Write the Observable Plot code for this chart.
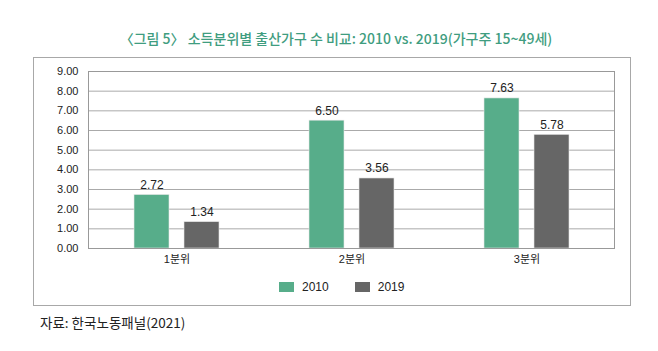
<!DOCTYPE html>
<html>
<head>
<meta charset="utf-8">
<script src="https://cdn.jsdelivr.net/npm/d3@7"></script>
<script src="https://cdn.jsdelivr.net/npm/@observablehq/plot@0.6"></script>
<style>
  html, body { margin: 0; padding: 0; background: #fff; }
  body { width: 658px; height: 351px; position: relative; overflow: hidden;
         font-family: "Liberation Sans", "Noto Sans CJK KR", sans-serif; }
  #title { position: absolute; left: 0; width: 672px; top: 28px; text-align: center;
           font-family: "Noto Sans CJK KR", sans-serif; font-size: 14px; font-weight: 500;
           color: #3f9d80; white-space: nowrap; }
  #box { position: absolute; left: 33px; top: 57px; width: 596px; height: 247px;
         border: 1px solid #a8a8a8; box-sizing: content-box; }
  #chart { position: absolute; left: 0; top: 0; }
  #legend { position: absolute; left: 245px; top: 222px; }
  #legend [class*="-swatches"] { font-size: 12px !important; color: #222 !important;
        font-family: "Liberation Sans", sans-serif !important; min-height: 0 !important; margin: 0 !important; }
  #legend [class*="-swatch"] { margin-right: 26px !important; }
  #legend [class*="-swatch"] > svg { margin-right: 8px !important; }
  #caption { position: absolute; left: 40px; top: 312px; font-size: 13.5px; color: #222;
             font-family: "Noto Sans CJK KR", sans-serif; }
</style>
</head>
<body>
<div id="title">〈그림 5〉 소득분위별 출산가구 수 비교: 2010 vs. 2019(가구주 15~49세)</div>
<div id="box"><div id="chart"></div><div id="legend"></div></div>
<div id="caption">자료: 한국노동패널(2021)</div>
<script>
const categories = ["1분위", "2분위", "3분위"];
const years = ["2010", "2019"];
const values2010 = [2.72, 6.50, 7.63];
const values2019 = [1.34, 3.56, 5.78];
const yTicks = [0, 1, 2, 3, 4, 5, 6, 7, 8, 9];
const colors = ["#57ad8a", "#666666"];

const rows2010 = categories.map((c, i) => ({cat: c, year: years[0], value: values2010[i]}));
const rows2019 = categories.map((c, i) => ({cat: c, year: years[1], value: values2019[i]}));
const fmt = d3.format(".2f");

const plot = Plot.plot({
  width: 596,
  height: 215,
  marginLeft: 54,
  marginRight: 16,
  marginTop: 13,
  marginBottom: 25,
  style: {fontSize: "11px", fontFamily: "\"Liberation Sans\", \"Noto Sans CJK KR\", sans-serif", color: "#222", background: "transparent"},
  x: {domain: categories, padding: 0, tickSize: 0, tickPadding: 7, label: null},
  y: {domain: [0, 9], ticks: yTicks, tickFormat: fmt, tickSize: 0, tickPadding: 10, label: null},
  color: {domain: years, range: colors},
  marks: [
    Plot.ruleY(yTicks, {stroke: "#aaaaaa", strokeWidth: 1}),
    Plot.barY(rows2010, {x: "cat", y: "value", fill: "year", dx: -25, insetLeft: 70, insetRight: 70, stroke: "#e6e6e6", strokeWidth: 0.6}),
    Plot.barY(rows2019, {x: "cat", y: "value", fill: "year", dx: 25, insetLeft: 70, insetRight: 70, stroke: "#e6e6e6", strokeWidth: 0.6}),
    Plot.text(rows2010, {x: "cat", y: "value", text: d => fmt(d.value), dx: -25, dy: -6, lineAnchor: "bottom", fontSize: 12, fill: "#222"}),
    Plot.text(rows2019, {x: "cat", y: "value", text: d => fmt(d.value), dx: 25, dy: -6, lineAnchor: "bottom", fontSize: 12, fill: "#222"}),
    Plot.frame({stroke: "#999999"})
  ]
});
document.getElementById("chart").appendChild(plot);

const legend = Plot.legend({
  color: {domain: years, range: colors},
  swatchWidth: 15,
  swatchHeight: 10
});
document.getElementById("legend").appendChild(legend);
</script>
</body>
</html>
